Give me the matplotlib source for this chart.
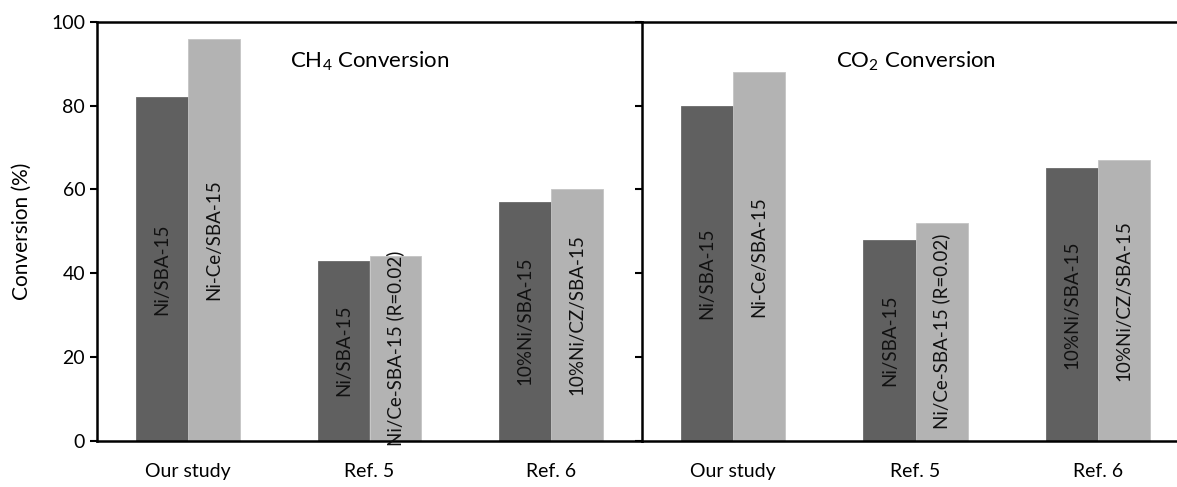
import matplotlib
matplotlib.use("Agg")
import matplotlib.pyplot as plt
import numpy as np

plt.rcParams['font.family'] = ['Lato', 'DejaVu Sans']
plt.rcParams['mathtext.fontset'] = 'custom'
plt.rcParams['mathtext.rm'] = 'Lato'
plt.rcParams['mathtext.it'] = 'Lato'
plt.rcParams['mathtext.default'] = 'regular'

groups = ["Our study", "Ref. 5", "Ref. 6"]
dark_labels = ["Ni/SBA-15", "Ni/SBA-15", "10%Ni/SBA-15"]
light_labels = ["Ni-Ce/SBA-15", "Ni/Ce-SBA-15 (R=0.02)", "10%Ni/CZ/SBA-15"]
ch4_dark = [82, 43, 57]
ch4_light = [96, 44, 60]
co2_dark = [80, 48, 65]
co2_light = [88, 52, 67]
panel_titles = ["CH$_4$ Conversion", "CO$_2$ Conversion"]
yticks = [0, 20, 40, 60, 80, 100]

W, H = 1177, 487
fig = plt.figure(figsize=(W / 100, H / 100), dpi=100)
bottom = (H - 440.5) / H
height = 418.5 / H
ax1 = fig.add_axes([97 / W, bottom, (642 - 97) / W, height])
ax2 = fig.add_axes([642 / W, bottom, 547 / W, height])

dark_c = "#606060"
light_c = "#b3b3b3"
bw = 0.286
x = np.arange(len(groups))

for ax, dv, lv, title in [(ax1, ch4_dark, ch4_light, panel_titles[0]),
                          (ax2, co2_dark, co2_light, panel_titles[1])]:
    ax.bar(x - bw / 2, dv, bw, color=dark_c, edgecolor="#6a6a6a", linewidth=0.6)
    ax.bar(x + bw / 2, lv, bw, color=light_c, edgecolor="#c4c4c4", linewidth=0.6)
    for xi, v, lab in zip(x, dv, dark_labels):
        ax.text(xi - bw / 2, v / 2, lab, rotation=90, ha="center", va="center",
                fontsize=13.5, color="#111111")
    for xi, v, lab in zip(x, lv, light_labels):
        ax.text(xi + bw / 2, v / 2, lab, rotation=90, ha="center", va="center",
                fontsize=13.5, color="#111111")
    ax.set_xlim(-0.5, 2.5)
    ax.set_ylim(0, 100)
    ax.set_yticks(yticks)
    ax.set_xticks(x)
    ax.set_xticklabels(groups, fontsize=14)
    ax.tick_params(axis="x", length=0, pad=16)
    ax.tick_params(axis="y", direction="out", length=5, width=1.5)
    for s in ax.spines.values():
        s.set_linewidth(1.8)
        s.set_color("black")
    ax.text(1, 90.5, title, ha="center", va="center", fontsize=16)

ax1.spines["right"].set_visible(False)
ax2.spines["right"].set_visible(False)
ax1.set_yticklabels([str(t) for t in yticks], fontsize=14)
ax1.set_ylabel("Conversion (%)", fontsize=15, labelpad=14)
ax2.set_yticklabels([])

fig.savefig("out.png", dpi=100)
